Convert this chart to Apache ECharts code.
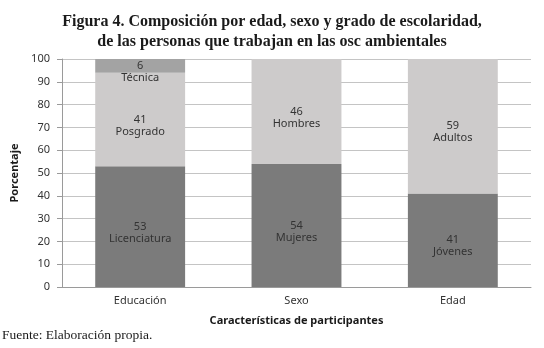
<!DOCTYPE html>
<html>
<head>
<meta charset="utf-8">
<script src="https://cdn.jsdelivr.net/npm/echarts@6/dist/echarts.min.js"></script>
<style>
  html, body { margin: 0; padding: 0; background: #fff; }
  #chart { width: 544px; height: 348px; }
</style>
</head>
<body>
<div id="chart"></div>
<script>
// categorias del eje x
var categories = ['Educación', 'Sexo', 'Edad']
// segmento inferior, medio y superior de cada barra
var bottomValues = [53, 54, 41]
var bottomNames = ['Licenciatura', 'Mujeres', 'Jóvenes']
var middleValues = [41, 46, 59]
var middleNames = ['Posgrado', 'Hombres', 'Adultos']
var topValues = [6, null, null]
var topNames = ['Técnica', '', '']
var yTicks = [0, 10, 20, 30, 40, 50, 60, 70, 80, 90, 100]

var sansFont = 'Noto Sans'
var labelColor = '#333333'

function segLabel (names) {
  return {
    show: true,
    position: 'inside',
    offset: [0, 6],
    fontFamily: sansFont,
    fontSize: 11,
    lineHeight: 12,
    color: labelColor,
    formatter: function (p) {
      return p.value + '\n' + names[p.dataIndex]
    }
  }
}

var chart = echarts.init(document.getElementById('chart'), null, { renderer: 'canvas' })
var option = {
  backgroundColor: '#ffffff',
  animation: false,
  title: {
    text: 'Figura 4. Composición por edad, sexo y grado de escolaridad,\nde las personas que trabajan en las osc ambientales',
    left: 'center',
    top: 7,
    textStyle: {
      fontFamily: 'Liberation Serif',
      fontWeight: 'bold',
      fontSize: 16,
      lineHeight: 20,
      color: '#1a1a1a'
    }
  },
  graphic: [
    {
      type: 'text',
      left: 2,
      top: 328,
      style: {
        text: 'Fuente: Elaboración propia.',
        font: '13.5px "Liberation Serif"',
        fill: '#1a1a1a'
      }
    }
  ],
  grid: {
    left: 62,
    right: 13,
    top: 59,
    bottom: 61
  },
  xAxis: {
    type: 'category',
    data: categories,
    name: 'Características de participantes',
    nameLocation: 'middle',
    nameGap: 28,
    nameTextStyle: {
      fontFamily: sansFont,
      fontWeight: 'bold',
      fontSize: 11,
      color: '#1a1a1a'
    },
    axisLine: { lineStyle: { color: '#9a9a9a', width: 1 } },
    axisTick: { show: false },
    axisLabel: {
      margin: 8,
      fontFamily: sansFont,
      fontSize: 11,
      color: '#333333'
    }
  },
  yAxis: {
    type: 'value',
    min: 0,
    max: 100,
    interval: 10,
    name: 'Porcentaje',
    nameLocation: 'middle',
    nameGap: 40,
    nameRotate: 90,
    nameTextStyle: {
      fontFamily: sansFont,
      fontWeight: 'bold',
      fontSize: 11,
      color: '#1a1a1a'
    },
    axisLine: { show: true, lineStyle: { color: '#9a9a9a', width: 1 } },
    axisTick: { show: true, inside: false, length: 5, lineStyle: { color: '#9a9a9a' } },
    splitLine: { lineStyle: { color: '#c4c4c4', width: 1 } },
    axisLabel: {
      margin: 12,
      fontFamily: sansFont,
      fontSize: 11,
      color: '#333333',
      formatter: function (v) {
        return yTicks.indexOf(v) >= 0 ? String(v) : ''
      }
    }
  },
  series: [
    {
      name: 'inferior',
      type: 'bar',
      stack: 'total',
      barWidth: '57.5%',
      itemStyle: { color: '#7b7b7b' },
      label: segLabel(bottomNames),
      data: bottomValues
    },
    {
      name: 'medio',
      type: 'bar',
      stack: 'total',
      itemStyle: { color: '#cdcbcb' },
      label: segLabel(middleNames),
      data: middleValues
    },
    {
      name: 'superior',
      type: 'bar',
      stack: 'total',
      itemStyle: { color: '#a3a3a3' },
      label: segLabel(topNames),
      data: topValues
    }
  ]
}
chart.setOption(option)
</script>
</body>
</html>
